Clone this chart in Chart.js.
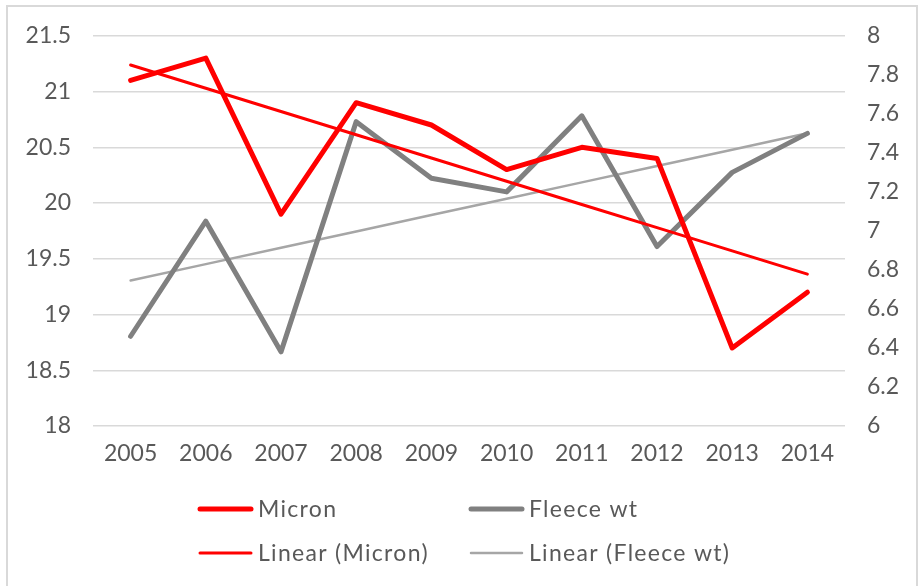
<!DOCTYPE html>
<html>
<head>
<meta charset="utf-8">
<title>Micron and Fleece wt</title>
<script src="https://cdn.jsdelivr.net/npm/chart.js@4.4.1/dist/chart.umd.min.js"></script>
<style>
  html, body { margin: 0; padding: 0; background: #fff; }
  #wrap { position: relative; width: 919px; height: 586px; overflow: hidden; }
  #frame { position: absolute; left: 6px; top: 5px; width: 912px; height: 620px;
           border: 2px solid #d9d9d9; box-sizing: border-box; pointer-events: none; }
</style>
</head>
<body>
<div id="wrap">
  <canvas id="myChart" width="919" height="586"></canvas>
  <div id="frame"></div>
</div>
<script>
const years = ['2005', '2006', '2007', '2008', '2009', '2010', '2011', '2012', '2013', '2014'];
const micron = [21.1, 21.3, 19.9, 20.9, 20.7, 20.3, 20.5, 20.4, 18.7, 19.2];
const fleeceWt = [6.46, 7.05, 6.38, 7.56, 7.27, 7.2, 7.59, 6.92, 7.3, 7.5];

// least squares trend, same as Excel's linear trendline
function linearTrend(values) {
    const n = values.length;
    const mx = (n - 1) / 2;
    const my = values.reduce((a, b) => a + b, 0) / n;
    let sxy = 0, sxx = 0;
    values.forEach((v, i) => { sxy += (i - mx) * (v - my); sxx += (i - mx) * (i - mx); });
    const slope = sxy / sxx;
    return values.map((v, i) => my + slope * (i - mx));
}

const textColor = '#595959';
const tickFont = { family: 'Lato', size: 23 };

// legend laid out on a 2 column grid like the Excel one
const gridLegend = {
    id: 'gridLegend',
    afterDraw(chart, args, opts) {
        const ctx = chart.ctx;
        const cx = (chart.chartArea.left + chart.chartArea.right) / 2;
        ctx.save();
        ctx.font = '23px Lato';
        ctx.fillStyle = textColor;
        ctx.textBaseline = 'middle';
        ctx.lineCap = 'round';
        if ('letterSpacing' in ctx) ctx.letterSpacing = '1.3px';
        opts.items.forEach((idx, i) => {
            const ds = chart.data.datasets[idx];
            const col = i % 2, row = Math.floor(i / 2);
            const x = cx - opts.colWidth + col * opts.colWidth;
            const y = opts.top + row * opts.rowHeight;
            ctx.strokeStyle = ds.borderColor;
            ctx.lineWidth = ds.borderWidth;
            ctx.beginPath();
            ctx.moveTo(x + 2, y);
            ctx.lineTo(x + opts.lineLength - 2, y);
            ctx.stroke();
            ctx.fillText(ds.label, x + opts.lineLength + 5, y + 1);
        });
        ctx.restore();
    }
};

const ctx = document.getElementById('myChart').getContext('2d');
const myChart = new Chart(ctx, {
    type: 'line',
    data: {
        labels: years,
        datasets: [{
            label: 'Micron',
            data: micron,
            yAxisID: 'y',
            borderColor: '#ff0000',
            borderWidth: 5,
            order: 0
        }, {
            label: 'Fleece wt',
            data: fleeceWt,
            yAxisID: 'y1',
            borderColor: '#808080',
            borderWidth: 5,
            order: 2
        }, {
            label: 'Linear (Micron)',
            data: linearTrend(micron),
            yAxisID: 'y',
            borderColor: '#ff0000',
            borderWidth: 3,
            order: 1
        }, {
            label: 'Linear (Fleece wt)',
            data: linearTrend(fleeceWt),
            yAxisID: 'y1',
            borderColor: '#a6a6a6',
            borderWidth: 2.5,
            order: 3
        }]
    },
    options: {
        responsive: false,
        animation: false,
        layout: { padding: { top: 35, bottom: 115, left: 0, right: 0 } },
        elements: {
            point: { radius: 0, hoverRadius: 0 },
            line: { tension: 0, borderJoinStyle: 'round', borderCapStyle: 'round', fill: false }
        },
        scales: {
            x: {
                offset: true,
                grid: { display: false, drawTicks: false },
                border: { display: false },
                ticks: { color: textColor, font: tickFont, padding: 14, maxRotation: 0, autoSkip: false },
                afterFit: (s) => { s.height = 45; }
            },
            y: {
                position: 'left',
                min: 18,
                max: 21.5,
                grid: { color: '#d9d9d9', lineWidth: 1.5, drawTicks: false },
                border: { display: false },
                ticks: {
                    stepSize: 0.5,
                    color: textColor,
                    font: tickFont,
                    padding: 22,
                    callback: (v) => String(Number(v.toFixed(1)))
                },
                afterFit: (s) => { s.width = 93; }
            },
            y1: {
                position: 'right',
                min: 6,
                max: 8,
                grid: { display: false, drawTicks: false },
                border: { display: false },
                ticks: {
                    stepSize: 0.2,
                    color: textColor,
                    font: tickFont,
                    padding: 22,
                    callback: (v) => String(Number(v.toFixed(1)))
                },
                afterFit: (s) => { s.width = 74; }
            }
        },
        plugins: {
            legend: { display: false },
            tooltip: { enabled: false },
            gridLegend: { items: [0, 1, 2, 3], colWidth: 271, rowHeight: 44, top: 509, lineLength: 55 }
        }
    },
    plugins: [gridLegend]
});
</script>
</body>
</html>
